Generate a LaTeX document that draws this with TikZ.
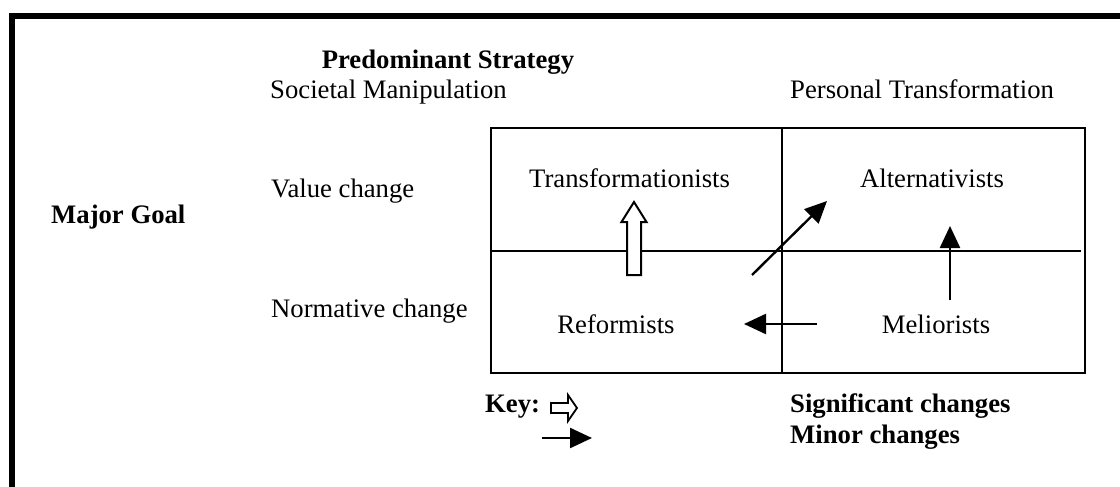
\documentclass[tikz,border=0pt]{standalone}
\usepackage{fontspec}
\setmainfont{Liberation Serif}
\usetikzlibrary{arrows.meta}
\begin{document}
\begin{tikzpicture}[x=1pt,y=-1pt,
  lbl/.style={inner sep=0pt,font=\fontsize{26.7}{32}\selectfont},
  blbl/.style={lbl,font=\fontsize{26.7}{32}\selectfont\bfseries},
  grid/.style={line width=2pt},
  minor/.style={line width=2.4pt,-{Triangle[length=22pt,width=20pt]}},
  hollow/.style={line width=2pt,fill=white,line join=miter}]
\useasboundingbox (0,0) rectangle (1120,487);
% frame (top and left edges)
\draw[line width=6pt] (11.5,487) -- (11.5,16) -- (1120,16);
% quadrant grid
\coordinate (tl) at (491,128);
\coordinate (br) at (1085,373);
\draw[grid] (tl) rectangle (br);
\draw[grid] (782,128) -- (782,373);
\draw[grid] (491,251) -- (1081,251);
% headings
\node[blbl,anchor=base] (strat) at (448,69) {Predominant Strategy};
\node[lbl,anchor=base west] (soc) at (270,99) {Societal Manipulation};
\node[lbl,anchor=base west] (pers) at (790,99) {Personal Transformation};
\node[blbl,anchor=base west] (goal) at (51,223) {Major Goal};
\node[lbl,anchor=base west] (val) at (271,197) {Value change};
\node[lbl,anchor=base west] (norm) at (271,317) {Normative change};
% quadrant labels
\node[lbl,anchor=base west] (trans) at (529,187) {Transformationists};
\node[lbl,anchor=base] (alt) at (932,187) {Alternativists};
\node[lbl,anchor=base] (ref) at (616,333) {Reformists};
\node[lbl,anchor=base] (mel) at (936,333) {Meliorists};
% transitions
\coordinate (d1) at (752,275);
\coordinate (d2) at (827,201);
\draw[minor] (d1) -- (d2);
\coordinate (l1) at (817,324);
\coordinate (l2) at (744,324);
\draw[minor] (l1) -- (l2);
\coordinate (u1) at (950,300);
\coordinate (u2) at (950,226);
\draw[minor] (u1) -- (u2);
\coordinate (h) at (634,275);
\draw[hollow] (h) ++(-7,0) -- ++(14,0) -- ++(0,-53) -- ++(5.5,0) -- (634,202)
  -- (621.5,222) -- (627,222) -- cycle;
% key
\node[blbl,anchor=base west] (key) at (485,412) {Key:};
\node[blbl,anchor=base west] (sig) at (790,412) {Significant changes};
\node[blbl,anchor=base west] (min) at (790,443) {Minor changes};
\coordinate (k) at (551,408);
\draw[hollow,line width=1.8pt] (k) ++(0,-5) -- (568,403) -- (568,395) -- (577,408)
  -- (568,421) -- (568,413) -- (551,413) -- cycle;
\coordinate (m1) at (542,438);
\coordinate (m2) at (592,438);
\draw[minor] (m1) -- (m2);
\end{tikzpicture}
\end{document}
